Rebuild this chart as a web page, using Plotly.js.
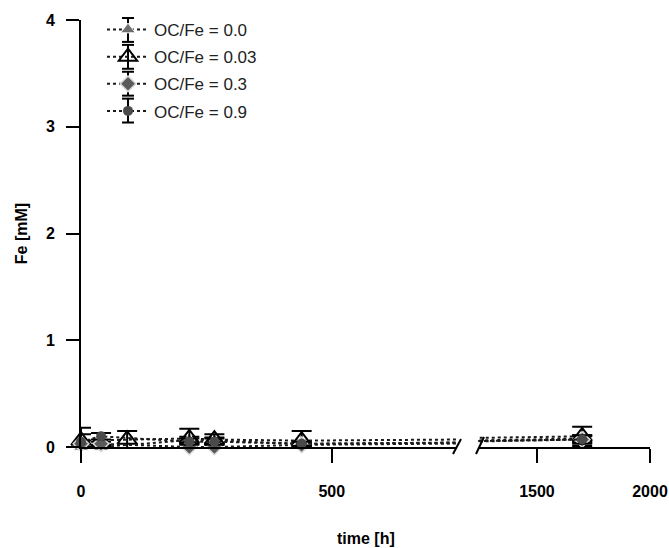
<!DOCTYPE html>
<html>
<head>
<meta charset="utf-8">
<script src="https://cdn.plot.ly/plotly-3.0.1.min.js"></script>
<style>html,body{margin:0;padding:0;background:#fff;}</style>
</head>
<body>
<div id="chart" style="width:669px;height:548px;"></div>
<script>
// Sampling times [h]
const times = [0, 40, 92, 216, 266, 440, 1700];
// Series names
const seriesNames = ["OC/Fe = 0.0", "OC/Fe = 0.03", "OC/Fe = 0.3", "OC/Fe = 0.9"];
// Fe [mM] for each series (null = not measured)
const fe00  = [0.00, 0.00, null, 0.065, 0.06, 0.03, 0.08];
const fe003 = [0.06, null, 0.07, 0.08, 0.07, 0.06, 0.10];
const fe03  = [0.03, 0.03, null, 0.00, 0.00, 0.02, 0.07];
const fe09  = [0.05, 0.10, null, 0.05, 0.05, 0.03, 0.07];
// error (SD) for each series
const err00  = [0.03, 0.02, null, 0.03, 0.03, 0.02, 0.03];
const err003 = [0.12, null, 0.08, 0.09, 0.05, 0.09, 0.09];
const err03  = [0.03, 0.02, null, 0.03, 0.03, 0.02, 0.03];
const err09  = [0.07, 0.03, null, 0.03, 0.03, 0.02, 0.04];
// axis ticks
const xTicksLeft = [0, 500];
const xTicksRight = [1500, 2000];
const yTicks = [0, 1, 2, 3, 4];

const values = [fe00, fe003, fe03, fe09];
const errors = [err00, err003, err03, err09];
const markers = [
  {symbol: "triangle-up", size: 13, color: "#6e6e6e", line: {color: "#ffffff", width: 1}},
  {symbol: "triangle-up-open", size: 17, color: "#000000", line: {color: "#000000", width: 2}},
  {symbol: "diamond", size: 12, color: "#5a5a5a", line: {color: "#d8d8d8", width: 1.5}},
  {symbol: "circle", size: 10, color: "#4a4a4a", line: {color: "#4a4a4a", width: 0}}
];

const FONT = "Arial, 'Liberation Sans', sans-serif";
const traces = [];
for (let i = 0; i < 4; i++) {
  const xs = [], ys = [], es = [];
  for (let j = 0; j < times.length; j++) {
    if (values[i][j] !== null) { xs.push(times[j]); ys.push(values[i][j]); es.push(errors[i][j]); }
  }
  const base = {
    x: xs, y: ys, type: "scatter", mode: "lines+markers",
    name: seriesNames[i],
    line: {color: "#1a1a1a", width: 2, dash: "dot"},
    marker: markers[i],
    error_y: {type: "data", array: es, visible: true, color: "#000", thickness: 2, width: 10},
    legendgroup: "g" + i
  };
  traces.push(Object.assign({}, base, {xaxis: "x", yaxis: "y", cliponaxis: false, showlegend: true}));
  traces.push(Object.assign({}, base, {xaxis: "x2", yaxis: "y", cliponaxis: true, showlegend: false}));
}

const axisCommon = {
  showline: true, linecolor: "#000", linewidth: 2,
  ticks: "outside", ticklen: 14, tickwidth: 2, tickcolor: "#000",
  showgrid: false, zeroline: false,
  tickfont: {family: FONT, size: 16, color: "#000", weight: "bold"},
  ticklabelstandoff: 15
};

// legend error-bar decorations (pixel positions converted to paper coordinates)
const px = x => (x - 81) / 569;
const py = y => (447 - y) / 429;
const legendBarX = 128;
const legendRows = [28, 55, 82, 109];
const shapes = [
  {type: "line", xref: "paper", yref: "paper", x0: px(453), x1: px(461), y0: py(454), y1: py(439), line: {color: "#000", width: 2}},
  {type: "line", xref: "paper", yref: "paper", x0: px(476), x1: px(484), y0: py(454), y1: py(437), line: {color: "#000", width: 2}}
];
legendRows.forEach(r => {
  shapes.push({type: "line", xref: "paper", yref: "paper", x0: px(legendBarX), x1: px(legendBarX), y0: py(r - 12), y1: py(r + 12), line: {color: "#000", width: 2}});
  shapes.push({type: "line", xref: "paper", yref: "paper", x0: px(legendBarX - 6), x1: px(legendBarX + 6), y0: py(r - 12), y1: py(r - 12), line: {color: "#000", width: 2}});
  shapes.push({type: "line", xref: "paper", yref: "paper", x0: px(legendBarX - 6), x1: px(legendBarX + 6), y0: py(r + 12), y1: py(r + 12), line: {color: "#000", width: 2}});
});

const layout = {
  width: 669, height: 548,
  margin: {l: 81, r: 19, t: 18, b: 101},
  paper_bgcolor: "#fff", plot_bgcolor: "#fff",
  font: {family: FONT, color: "#000"},
  showlegend: true,
  legend: {
    x: px(102), y: py(10), xanchor: "left", yanchor: "top",
    bgcolor: "rgba(0,0,0,0)", font: {family: FONT, size: 17, color: "#222"},
    tracegroupgap: 2, itemwidth: 42
  },
  xaxis: Object.assign({}, axisCommon, {domain: [0, 0.661], range: [0, 750], tickvals: xTicksLeft, anchor: "y"}),
  xaxis2: Object.assign({}, axisCommon, {domain: [0.698, 1], range: [1240, 2000], tickvals: xTicksRight, anchor: "y"}),
  yaxis: Object.assign({}, axisCommon, {range: [0, 4], tickvals: yTicks, ticklen: 13, ticklabelstandoff: 8,
    title: {text: "Fe [mM]", font: {family: FONT, size: 16, weight: "bold"}, standoff: 14}}),
  annotations: [{
    text: "time [h]", xref: "paper", yref: "paper", x: 0.5, y: py(539), xanchor: "center", yanchor: "middle",
    showarrow: false, font: {family: FONT, size: 16, color: "#000", weight: "bold"}
  }],
  shapes: shapes
};

Plotly.newPlot("chart", traces, layout, {displayModeBar: false, staticPlot: true});
</script>
</body>
</html>
